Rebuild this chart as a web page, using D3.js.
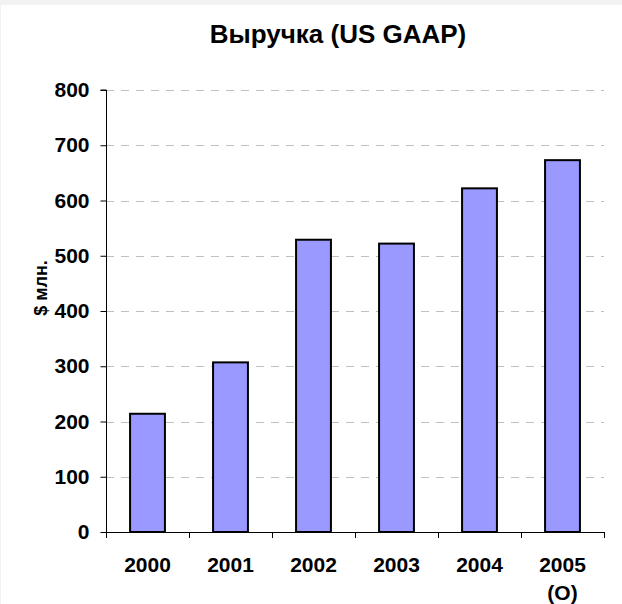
<!DOCTYPE html>
<html>
<head>
<meta charset="utf-8">
<script src="https://cdn.jsdelivr.net/npm/d3@7"></script>
<style>
  html, body { margin: 0; padding: 0; background: #f2f2f2; }
  svg { display: block; }
</style>
</head>
<body>
<svg id="chart" width="622" height="604"></svg>
<script>
// Revenue by year, $ mln (2005 is a forecast)
const years = ["2000", "2001", "2002", "2003", "2004", "2005"];
const yearNotes = ["", "", "", "", "", "(O)"];
const revenue = [214, 307, 529, 522, 622, 673];
const yTicks = [0, 100, 200, 300, 400, 500, 600, 700, 800];

const svg = d3.select("#chart");
const W = 622, H = 604;
const margin = { top: 90, right: 18, bottom: 72, left: 106 };
const plotW = W - margin.left - margin.right;
const plotH = 532 - margin.top;

// white chart area
svg.append("rect")
  .attr("x", 1).attr("y", 5)
  .attr("width", W - 1).attr("height", H - 5)
  .attr("fill", "#ffffff");

const x = d3.scaleBand()
  .domain(years)
  .range([margin.left, margin.left + plotW])
  .paddingInner(0.58)
  .paddingOuter(0.29);

const y = d3.scaleLinear()
  .domain([0, 800])
  .range([margin.top + plotH, margin.top]);

const font = "'Liberation Sans', Arial, sans-serif";

// dashed gridlines
svg.append("g")
  .selectAll("line")
  .data(yTicks.filter(d => d > 0))
  .join("line")
  .attr("x1", margin.left)
  .attr("x2", margin.left + plotW)
  .attr("y1", d => Math.round(y(d)) + 0.5)
  .attr("y2", d => Math.round(y(d)) + 0.5)
  .attr("stroke", "#c0c0c0")
  .attr("stroke-width", 1)
  .attr("stroke-dasharray", "8,7");

// bars
svg.append("g")
  .selectAll("rect")
  .data(revenue)
  .join("rect")
  .attr("x", (d, i) => x(years[i]))
  .attr("y", d => y(d))
  .attr("width", x.bandwidth())
  .attr("height", d => y(0) - y(d))
  .attr("fill", "#9999ff")
  .attr("stroke", "#000")
  .attr("stroke-width", 2);

// y axis
const yAxis = d3.axisLeft(y)
  .tickValues(yTicks)
  .tickSize(6)
  .tickPadding(11)
  .tickFormat(d3.format("d"));
const gy = svg.append("g")
  .attr("transform", `translate(${margin.left + 0.5},0)`)
  .call(yAxis);
gy.select(".domain").attr("stroke", "#000").attr("d", `M-6,${y(800)}H0V${y(0)}`);
gy.selectAll(".tick line").attr("stroke", "#000");
gy.selectAll(".tick text")
  .attr("font-family", font)
  .attr("font-size", 21)
  .attr("font-weight", "bold")
  .attr("fill", "#000");

// x axis: baseline with tick marks at category boundaries
const gx = svg.append("g");
gx.append("line")
  .attr("x1", margin.left).attr("x2", margin.left + plotW)
  .attr("y1", y(0) + 0.5).attr("y2", y(0) + 0.5)
  .attr("stroke", "#000");
const bounds = d3.range(years.length + 1).map(i => margin.left + i * plotW / years.length);
gx.selectAll("line.tk")
  .data(bounds)
  .join("line")
  .attr("class", "tk")
  .attr("x1", d => Math.round(d) + 0.5).attr("x2", d => Math.round(d) + 0.5)
  .attr("y1", y(0)).attr("y2", y(0) + 6)
  .attr("stroke", "#000");

gx.selectAll("text.lab")
  .data(years)
  .join("text")
  .attr("class", "lab")
  .attr("x", d => x(d) + x.bandwidth() / 2)
  .attr("y", 572)
  .attr("text-anchor", "middle")
  .attr("font-family", font)
  .attr("font-size", 21)
  .attr("font-weight", "bold")
  .text(d => d);
gx.selectAll("text.note")
  .data(years)
  .join("text")
  .attr("class", "note")
  .attr("x", d => x(d) + x.bandwidth() / 2)
  .attr("y", 600)
  .attr("text-anchor", "middle")
  .attr("font-family", font)
  .attr("font-size", 21)
  .attr("font-weight", "bold")
  .text((d, i) => yearNotes[i]);

// y axis title
svg.append("text")
  .attr("transform", "translate(47,288) rotate(-90)")
  .attr("text-anchor", "middle")
  .attr("font-family", font)
  .attr("font-size", 18)
  .attr("font-weight", "bold")
  .text("$ млн.");

// chart title
svg.append("text")
  .attr("x", 338)
  .attr("y", 43)
  .attr("text-anchor", "middle")
  .attr("font-family", font)
  .attr("font-size", 26)
  .attr("font-weight", "bold")
  .text("Выручка (US GAAP)");
</script>
</body>
</html>
